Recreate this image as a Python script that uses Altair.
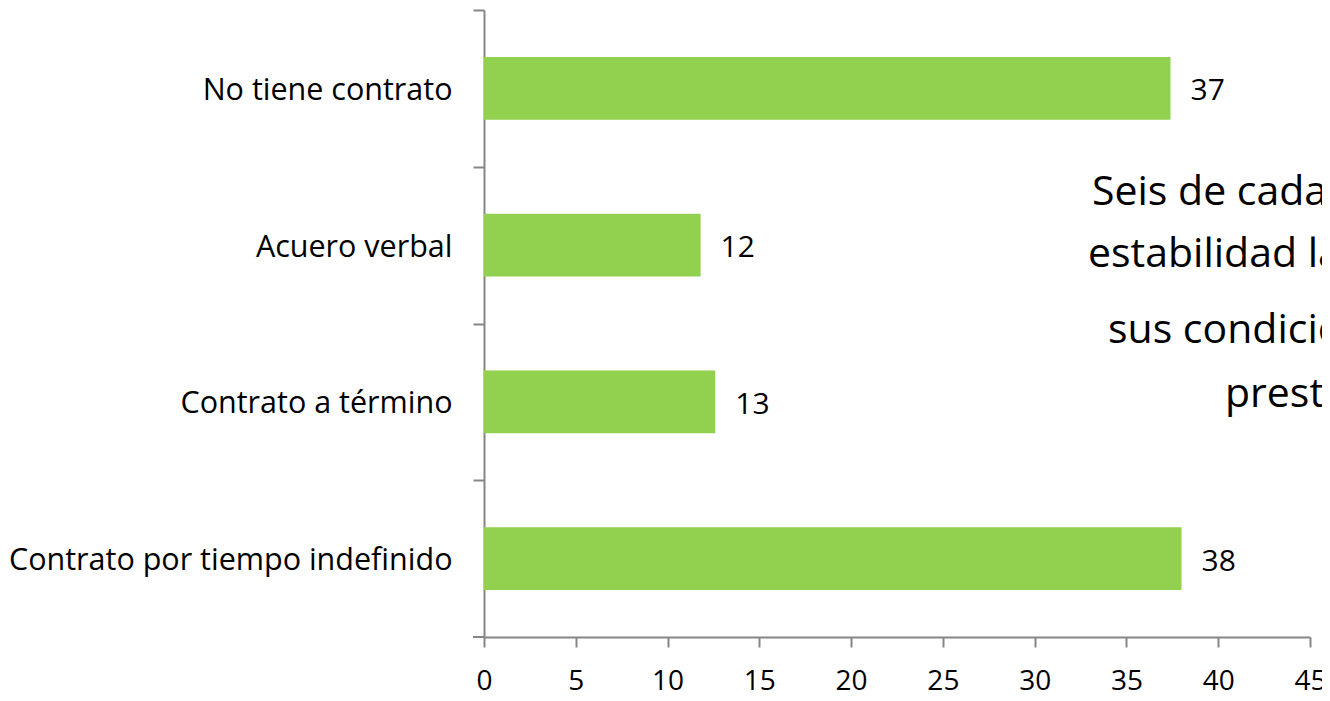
import altair as alt
import pandas as pd

categories = ["No tiene contrato", "Acuero verbal", "Contrato a término", "Contrato por tiempo indefinido"]
values = [37.4, 11.8, 12.6, 38.0]
value_labels = ["37", "12", "13", "38"]
note_lines = ["Seis de cada diez", "estabilidad laboral", "sus condiciones", "prestaciones"]

FONT = "Open Sans"
GREEN = "#92D050"
GREY = "#868686"

PLOT_W, PLOT_H = 826, 627
N = len(categories)
STEP = PLOT_H / (N - 0.6 + 0.6)

df = pd.DataFrame({"cat": categories, "val": values, "lbl": value_labels})

y_enc = alt.Y(
    "cat:N",
    sort=categories,
    title=None,
    scale=alt.Scale(paddingInner=0.6, paddingOuter=0.3),
    axis=alt.Axis(
        domainColor=GREY, domainWidth=2, tickColor=GREY, tickWidth=2, tickSize=11,
        tickOffset=-STEP / 2, labelOffset=STEP / 2 + 2, labelFont=FONT, labelFontSize=30.5,
        labelColor="black", labelPadding=21, labelLimit=1000, grid=False,
    ),
)
x_enc = alt.X(
    "val:Q",
    title=None,
    scale=alt.Scale(domain=[0, 45], nice=False),
    axis=alt.Axis(
        values=list(range(0, 46, 5)), domainColor=GREY, domainWidth=2, tickColor=GREY,
        tickWidth=2, tickSize=10, labelFont=FONT, labelFontSize=28, labelColor="black",
        labelPadding=20, grid=False, labelFlush=False,
    ),
)

bars = alt.Chart(df).mark_bar(color=GREEN).encode(x=x_enc, y=y_enc)
labels = alt.Chart(df).mark_text(
    align="left", baseline="middle", dx=20, dy=3, font=FONT, fontSize=30, color="black"
).encode(x="val:Q", y=alt.Y("cat:N", sort=categories), text="lbl:N")

# closing tick of the category axis at its bottom end
end_tick = alt.Chart(pd.DataFrame({"v": [0]})).mark_rule(color=GREY, strokeWidth=2).encode(
    x=alt.value(-11), x2=alt.value(0), y=alt.value(PLOT_H)
)

note_x = [608, 604, 624, 741]
note_y = [195, 257, 333, 397]
notes = []
for t, nx, ny in zip(note_lines, note_x, note_y):
    notes.append(
        alt.Chart(pd.DataFrame({"t": [t]})).mark_text(
            align="left", baseline="alphabetic", font=FONT, fontSize=41, color="black"
        ).encode(text="t:N", x=alt.value(nx), y=alt.value(ny))
    )

chart = alt.layer(bars, labels, end_tick, *notes).properties(
    width=PLOT_W, height=PLOT_H,
    autosize=alt.AutoSizeParams(type="none"),
    padding={"left": 476, "top": 2, "right": 12, "bottom": 56},
).configure_view(stroke=None)

chart.save("out.html", embed_options={"renderer": "svg", "actions": False})
